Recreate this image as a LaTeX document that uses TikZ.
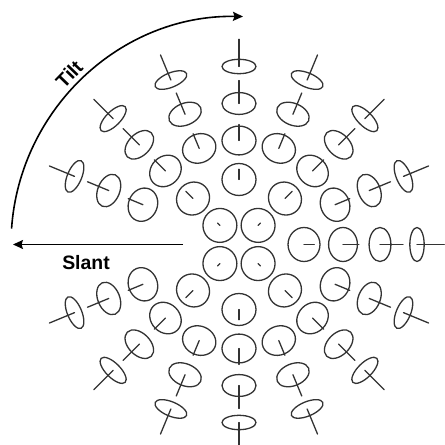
\documentclass[tikz,border=0pt]{standalone}
\usepackage{fontspec}
\setmainfont{Liberation Sans}
\usetikzlibrary{positioning, arrows.meta}
\definecolor{gaugegray}{HTML}{333333}
% tilt directions used by the three outer rings (none to the left)
\newcommand{\ringangles}{0,22.5,45,67.5,90,112.5,135,157.5,202.5,225,247.5,270,292.5,315,337.5}

\begin{document}
\begin{tikzpicture}[x=1bp, y=1bp,
  disk/.style={draw=gaugegray, line width=1.3bp},
  needle/.style={draw=gaugegray, line width=1.3bp, line cap=round},
  guide/.style={-{Stealth[length=10bp, width=9bp, inset=1.5bp]},
    line width=1.6bp, color=black},
  axlabel/.style={font=\fontsize{19.5}{22}\selectfont\bfseries,
    inner sep=0pt},
]
  \useasboundingbox (-239,-200.5) rectangle (206,244.5);

  % Inner rings: circles at the diagonals and the cross
  \foreach \r/\s/\angles in {27/6/{45,135,225,315},
      65/20/{0,45,90,135,225,270,315}} {
    \foreach \a in \angles {
      \begin{scope}[shift={(\a:\r)}, rotate=\a]
        \draw[disk] (0,0) ellipse [x radius={17*cos(\s)}, y radius=17];
        \draw[needle] (0,0) -- ({30*sin(\s)},0);
      \end{scope}
    }
  }

  % Outer rings: more slant, flatter ellipses
  \foreach \r/\s in {104/32, 141/50, 178/65} {
    \foreach \a in \ringangles {
      \begin{scope}[shift={(\a:\r)}, rotate=\a]
        \draw[disk] (0,0) ellipse [x radius={17*cos(\s)}, y radius=17];
        \draw[needle] (0,0) -- ({30*sin(\s)},0);
      \end{scope}
    }
  }

  % Slant arrow
  \coordinate (slantfrom) at (-56,0);
  \coordinate (slantto) at (-226,0);
  \draw[guide] (slantfrom) -- (slantto);
  \node[axlabel] (slant) at (-153,-18) {Slant};

  % Tilt arrow
  \coordinate (tiltfrom) at (176:228);
  \draw[guide] (tiltfrom) arc [start angle=176, end angle=89, radius=228];
  \node[axlabel, rotate=46] (tilt) at (-170,170.5) {Tilt};
\end{tikzpicture}
\end{document}
